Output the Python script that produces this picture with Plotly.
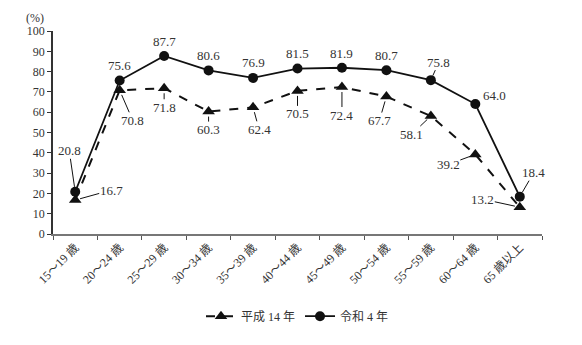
import plotly.graph_objects as go

# Age groups and labour-force participation rates (%)
age_groups = ["15～19 歳", "20～24 歳", "25～29 歳", "30～34 歳", "35～39 歳",
              "40～44 歳", "45～49 歳", "50～54 歳", "55～59 歳", "60～64 歳", "65 歳以上"]
heisei14 = [16.7, 70.8, 71.8, 60.3, 62.4, 70.5, 72.4, 67.7, 58.1, 39.2, 13.2]
reiwa4 = [20.8, 75.6, 87.7, 80.6, 76.9, 81.5, 81.9, 80.7, 75.8, 64.0, 18.4]
y_ticks = [0, 10, 20, 30, 40, 50, 60, 70, 80, 90, 100]

# Label placement (pixel offsets of each value label from its point; leader line on/off)
heisei_offsets = [(36, -10, True), (13, 30, True), (0, 19, True), (0, 18, True), (6, 22, True),
                  (0, 23, True), (0, 28, True), (-7, 24, True), (-19, 18, True), (-27, 10, True),
                  (-37, -8, True)]
reiwa_offsets = [(-6, -41, True), (0, -15, False), (0, -14, False), (0, -15, False), (0, -15, False),
                 (0, -15, False), (0, -14, False), (0, -15, False), (8, -18, True), (19, -9, False),
                 (14, -24, True)]

FONT = "Liberation Serif, Noto Sans CJK JP, serif"
INK = "#111111"
TXT = "#333333"

fig = go.Figure()
fig.add_trace(go.Scatter(
    x=age_groups, y=heisei14, name="平成 14 年", mode="lines+markers",
    line=dict(color=INK, width=2, dash="dash"),
    marker=dict(symbol="triangle-up", size=11, color=INK),
))
fig.add_trace(go.Scatter(
    x=age_groups, y=reiwa4, name="令和 4 年", mode="lines+markers",
    line=dict(color=INK, width=1.8),
    marker=dict(symbol="circle", size=10, color=INK),
))


def add_labels(values, offsets):
    for cat, v, (dx, dy, leader) in zip(age_groups, values, offsets):
        if leader:
            fig.add_annotation(
                x=cat, y=v, text=f"{v:.1f}", showarrow=True, ax=dx, ay=dy,
                arrowhead=0, arrowwidth=1, arrowcolor=INK, standoff=5,
                font=dict(family=FONT, size=13, color=TXT), borderpad=0,
            )
        else:
            fig.add_annotation(
                x=cat, y=v, text=f"{v:.1f}", showarrow=False,
                xshift=dx, yshift=-dy, xanchor="center", yanchor="middle",
                font=dict(family=FONT, size=13, color=TXT),
            )


add_labels(heisei14, heisei_offsets)
add_labels(reiwa4, reiwa_offsets)

# Unit label above the y axis
fig.add_annotation(
    xref="paper", yref="paper", x=-0.037, y=1.065, text="(%)", showarrow=False,
    xanchor="center", yanchor="middle", font=dict(family=FONT, size=12, color=TXT),
)

fig.update_layout(
    width=582, height=345,
    margin=dict(l=53, r=40, t=31, b=111),
    paper_bgcolor="white", plot_bgcolor="white",
    font=dict(family=FONT, size=12, color=TXT),
    showlegend=True,
    legend=dict(
        orientation="h", x=0.5, xanchor="center", y=-0.405, yanchor="middle",
        font=dict(family=FONT, size=12, color=TXT), itemwidth=30,
        tracegroupgap=0,
    ),
    xaxis=dict(
        type="category", range=[-0.5, 10.5], showgrid=False, zeroline=False,
        showline=True, linecolor="#777777", linewidth=1.5,
        ticks="outside", tickson="boundaries", ticklen=4, tickcolor="#555555",
        tickangle=-45, tickfont=dict(family=FONT, size=12, color=TXT),
    ),
    yaxis=dict(
        range=[0, 100], tickvals=y_ticks, showgrid=False, zeroline=False,
        showline=True, linecolor="#333333", linewidth=1.5,
        ticks="outside", ticklen=4, tickcolor="#333333",
        tickfont=dict(family=FONT, size=12, color=TXT),
    ),
)

fig.write_html("out.html")
